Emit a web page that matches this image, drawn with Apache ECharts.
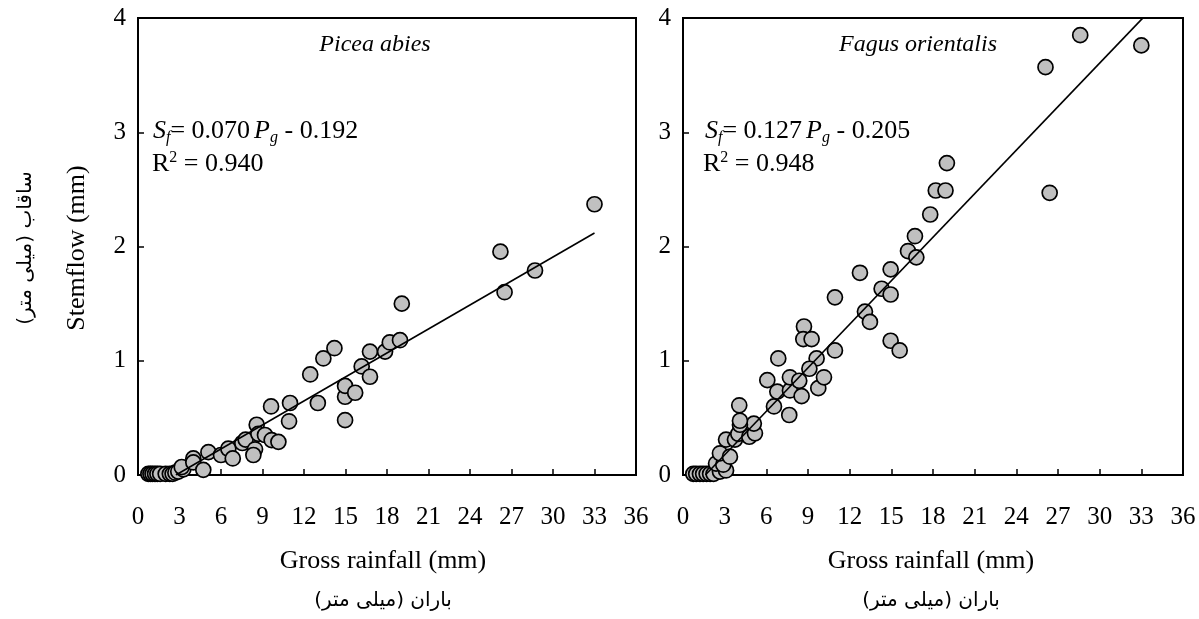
<!DOCTYPE html>
<html>
<head>
<meta charset="utf-8">
<script src="https://cdn.jsdelivr.net/npm/echarts@6/dist/echarts.min.js"></script>
<style>
html,body{margin:0;padding:0;background:#fff;}
#chart{width:1199px;height:619px;}
</style>
</head>
<body>
<div id="chart"></div>
<script>
// ---------------- data ----------------
const xTicks = [0, 3, 6, 9, 12, 15, 18, 21, 24, 27, 30, 33, 36];
const yTicks = [0, 1, 2, 3, 4];

const piceaPoints = [
  [0.75,0.01],[0.9,0.01],[1.05,0.01],[1.23,0.01],[1.4,0.01],[1.6,0.01],[2.0,0.01],[2.3,0.01],
  [2.5,0.01],[2.7,0.02],[2.91,0.03],[3.28,0.05],[3.16,0.07],[4.0,0.145],[4.0,0.11],[4.72,0.045],
  [5.09,0.2],[6.0,0.175],[6.53,0.23],[6.85,0.145],[7.54,0.28],[7.78,0.31],[8.58,0.44],[8.7,0.36],
  [8.46,0.225],[8.34,0.175],[9.18,0.35],[9.66,0.306],[10.15,0.29],[9.62,0.6],[10.99,0.63],[10.92,0.47],
  [12.45,0.88],[13.0,0.63],[13.4,1.02],[14.2,1.11],[14.97,0.48],[14.97,0.685],[14.97,0.78],[15.7,0.72],
  [16.17,0.95],[16.77,1.08],[16.77,0.86],[17.86,1.08],[18.2,1.16],[18.94,1.18],[19.07,1.5],
  [26.2,1.955],[26.5,1.6],[28.7,1.79],[33.0,2.37]
];
const fagusPoints = [
  [0.74,0.01],[0.95,0.01],[1.22,0.01],[1.45,0.01],[1.7,0.01],[1.95,0.01],[2.2,0.01],[2.66,0.03],
  [3.1,0.04],[2.38,0.1],[2.9,0.09],[2.66,0.19],[3.38,0.16],[3.1,0.31],[3.74,0.31],[3.98,0.36],
  [4.77,0.335],[5.18,0.365],[5.1,0.45],[4.1,0.44],[4.1,0.475],[4.05,0.61],[6.55,0.6],[7.65,0.525],
  [6.79,0.73],[7.7,0.74],[8.54,0.69],[9.74,0.76],[6.07,0.83],[7.7,0.855],[8.37,0.825],[10.15,0.855],
  [6.86,1.02],[9.62,1.02],[9.1,0.93],[8.71,1.30],[8.66,1.19],[9.26,1.19],[10.94,1.09],[10.94,1.555],
  [12.74,1.77],[13.1,1.43],[13.46,1.34],[14.3,1.63],[14.95,1.8],[14.95,1.58],[14.95,1.175],[15.6,1.09],
  [16.2,1.96],[16.8,1.905],[16.7,2.09],[17.8,2.28],[18.2,2.49],[18.9,2.49],[19.0,2.73],
  [26.1,3.57],[26.4,2.47],[28.6,3.85],[33.0,3.76]
];

// regression: [slope, intercept, xStart, xEnd]
const piceaFit = [0.070, -0.192, 2.74, 33.0];
const fagusFit = [0.127, -0.205, 1.61, 33.1];

const panelTitles = ['Picea abies', 'Fagus orientalis'];
const fitCoefText = [['0.070', '0.192', '0.940'], ['0.127', '0.205', '0.948']];
const xAxisName = 'Gross rainfall (mm)';
const yAxisName = 'Stemflow (mm)';
const xAxisNameFa = '\u200Fباران (میلی متر)\u200F';
const yAxisNameFa = '\u200Fساقاب (میلی متر)\u200F';

// ---------------- chart ----------------
const SERIF = "'Liberation Serif', 'Times New Roman', serif";
const chart = echarts.init(document.getElementById('chart'), null, {renderer: 'canvas'});

function fitLine(f) {
  return [[f[2], f[0] * f[2] + f[1]], [f[3], f[0] * f[3] + f[1]]];
}

function xAxisCfg(idx) {
  return {
    gridIndex: idx, type: 'value', min: 0, max: 36, interval: 3,
    axisLine: {show: true, onZero: false, lineStyle: {color: '#000', width: 2}},
    axisTick: {show: true, inside: true, length: 6, lineStyle: {color: '#000', width: 1.5}},
    axisLabel: {color: '#000', fontFamily: SERIF, fontSize: 25, margin: 30,
      customValues: xTicks},
    splitLine: {show: false}
  };
}
function yAxisCfg(idx) {
  return {
    gridIndex: idx, type: 'value', min: 0, max: 4, interval: 1,
    axisLine: {show: true, onZero: false, lineStyle: {color: '#000', width: 2}},
    axisTick: {show: true, inside: true, length: 6, lineStyle: {color: '#000', width: 1.5}},
    axisLabel: {color: '#000', fontFamily: SERIF, fontSize: 25, margin: 12, customValues: yTicks},
    splitLine: {show: false}
  };
}

const rich = {
  n: {fontFamily: SERIF, fontSize: 26, color: '#000', lineHeight: 32, verticalAlign: 'middle'},
  it: {fontFamily: SERIF, fontSize: 26, fontStyle: 'italic', color: '#000', lineHeight: 32, verticalAlign: 'middle'},
  itp: {fontFamily: SERIF, fontSize: 26, fontStyle: 'italic', color: '#000', lineHeight: 32, verticalAlign: 'middle', padding: [0, 0, 0, 4]},
  sub: {fontFamily: SERIF, fontSize: 16, fontStyle: 'italic', color: '#000', lineHeight: 16, verticalAlign: 'bottom', padding: [0, 0, 1, 0]},
  sup: {fontFamily: SERIF, fontSize: 16, color: '#000', lineHeight: 16, verticalAlign: 'top', padding: [2, 0, 0, 0]}
};

function eqText(i) {
  const c = fitCoefText[i];
  return '{it|S}{sub|f}{n|= ' + c[0] + '}{itp|P}{sub|g}{n| - ' + c[1] + '}';
}
function r2Text(i) {
  return '{n|R}{sup|2}{n| = ' + fitCoefText[i][2] + '}';
}

const option = {
  animation: false,
  backgroundColor: '#fff',
  grid: [
    {left: 138, right: 563, top: 18, bottom: 144, show: true, borderColor: '#000', borderWidth: 2},
    {left: 683, right: 16, top: 18, bottom: 144, show: true, borderColor: '#000', borderWidth: 2}
  ],
  xAxis: [xAxisCfg(0), xAxisCfg(1)],
  yAxis: [yAxisCfg(0), yAxisCfg(1)],
  series: [
    {type: 'scatter', xAxisIndex: 0, yAxisIndex: 0, data: piceaPoints, symbol: 'circle', symbolSize: 15,
      itemStyle: {color: '#c0c0c0', borderColor: '#000', borderWidth: 1.7, opacity: 1}, z: 2},
    {type: 'line', xAxisIndex: 0, yAxisIndex: 0, data: fitLine(piceaFit), showSymbol: false, symbol: 'none',
      lineStyle: {color: '#000', width: 1.6}, z: 3},
    {type: 'scatter', xAxisIndex: 1, yAxisIndex: 1, data: fagusPoints, symbol: 'circle', symbolSize: 15,
      itemStyle: {color: '#c0c0c0', borderColor: '#000', borderWidth: 1.7, opacity: 1}, z: 2},
    {type: 'line', xAxisIndex: 1, yAxisIndex: 1, data: fitLine(fagusFit), showSymbol: false, symbol: 'none',
      lineStyle: {color: '#000', width: 1.6}, z: 3}
  ],
  graphic: [
    {type: 'text', x: 375, y: 45, style: {text: panelTitles[0], font: "italic 24px 'Liberation Serif'", fill: '#000', align: 'center', verticalAlign: 'middle'}},
    {type: 'text', x: 918, y: 45, style: {text: panelTitles[1], font: "italic 24px 'Liberation Serif'", fill: '#000', align: 'center', verticalAlign: 'middle'}},
    {type: 'text', x: 153, y: 131, style: {text: eqText(0), rich: rich, align: 'left', verticalAlign: 'middle'}},
    {type: 'text', x: 152, y: 164, style: {text: r2Text(0), rich: rich, align: 'left', verticalAlign: 'middle'}},
    {type: 'text', x: 705, y: 131, style: {text: eqText(1), rich: rich, align: 'left', verticalAlign: 'middle'}},
    {type: 'text', x: 703, y: 164, style: {text: r2Text(1), rich: rich, align: 'left', verticalAlign: 'middle'}},
    {type: 'text', x: 383, y: 561, style: {text: xAxisName, font: "26px 'Liberation Serif'", fill: '#000', align: 'center', verticalAlign: 'middle'}},
    {type: 'text', x: 931, y: 561, style: {text: xAxisName, font: "26px 'Liberation Serif'", fill: '#000', align: 'center', verticalAlign: 'middle'}},
    {type: 'text', x: 383, y: 601, style: {text: xAxisNameFa, font: "20px 'DejaVu Sans'", fill: '#000', align: 'center', verticalAlign: 'middle'}},
    {type: 'text', x: 931, y: 601, style: {text: xAxisNameFa, font: "20px 'DejaVu Sans'", fill: '#000', align: 'center', verticalAlign: 'middle'}},
    {type: 'text', x: 77, y: 248, rotation: Math.PI / 2, style: {text: yAxisName, font: "26px 'Liberation Serif'", fill: '#000', align: 'center', verticalAlign: 'middle'}},
    {type: 'text', x: 26, y: 248, rotation: Math.PI / 2, style: {text: yAxisNameFa, font: "20px 'DejaVu Sans'", fill: '#000', align: 'center', verticalAlign: 'middle'}}
  ]
};
chart.setOption(option);
</script>
</body>
</html>
